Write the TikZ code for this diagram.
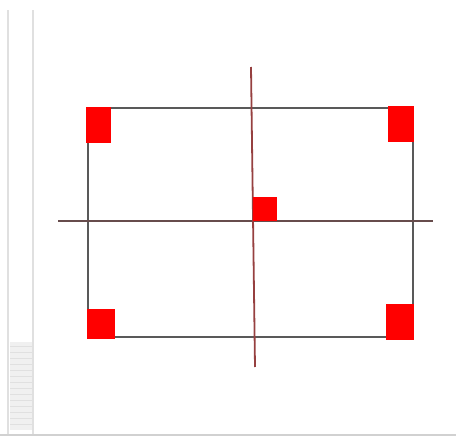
\documentclass[tikz,border=0pt]{standalone}
\begin{document}
\begin{tikzpicture}[x=1pt,y=-1pt,
  frameline/.style={draw=black!12,line width=1.5pt},
  boxline/.style={draw=black!65,line width=2.5pt},
  axisv/.style={draw=red!45!black!75,line width=1.8pt},
  axish/.style={draw=red!15!black!70,line width=2.2pt},
  handle/.style={fill=red,draw=none}]
\useasboundingbox (0,0) rectangle (456,439);
% left panel frame
\fill[black!6] (10,342) rectangle (33,430);
\foreach \yy in {346,352,...,428} \draw[black!12,line width=0.4pt] (10,\yy) -- (33,\yy);
\coordinate (fa1) at (8,10); \coordinate (fa2) at (8,434);
\coordinate (fb1) at (33,10); \coordinate (fb2) at (33,434);
\coordinate (fc1) at (0,435); \coordinate (fc2) at (456,435);
\draw[frameline] (fa1) -- (fa2);
\draw[frameline] (fb1) -- (fb2);
\draw[frameline,draw=black!18] (fc1) -- (fc2);
% rectangle
\coordinate (tl) at (88,108); \coordinate (br) at (413,337);
\draw[boxline] (tl) rectangle (br);
% axes
\coordinate (vt) at (251,67); \coordinate (vb) at (255,367);
\coordinate (hl) at (58,221); \coordinate (hr) at (433,221);
\draw[axish] (hl) -- (hr);
\draw[axisv] (vt) -- (vb);
% handles
\fill[handle] (86,107) rectangle (111,143);
\fill[handle] (388,106) rectangle (414,142);
\fill[handle] (87,309) rectangle (115,339);
\fill[handle] (386,304) rectangle (414,340);
\fill[handle] (253,197) rectangle (277,221);
\end{tikzpicture}
\end{document}
